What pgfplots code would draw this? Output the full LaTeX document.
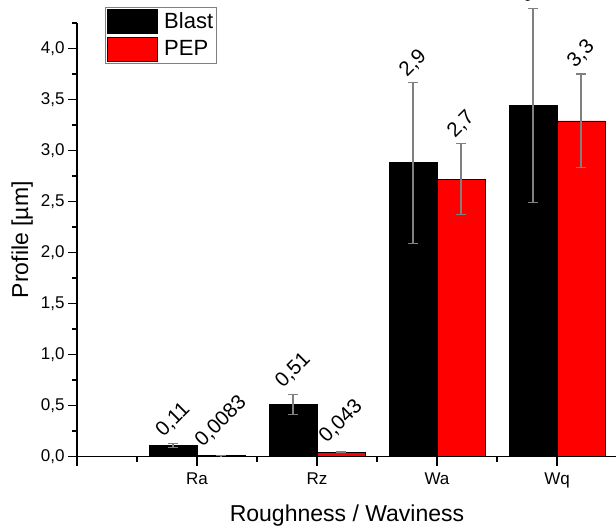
\documentclass[border=0pt]{standalone}
\usepackage{fontspec}
\setmainfont{Liberation Sans}
\usepackage{graphicx}
\usepackage{pgfplots}
\pgfplotsset{compat=1.18}

\definecolor{errgray}{RGB}{128,128,128}
\definecolor{pepred}{RGB}{255,0,0}

% bar samples: bar centre, mean, error
\pgfplotstableread{
x y e
0.8 0.11 0.02
1.8 0.51 0.10
2.8 2.88 0.79
3.8 3.44 0.95
}\blast
\pgfplotstableread{
x y e
1.2 0.0083 0.002
2.2 0.043 0.005
3.2 2.72 0.345
4.2 3.29 0.46
}\pep

\begin{document}
\begin{tikzpicture}
\begin{axis}[
  name=main,
  scale only axis,
  width=540pt, height=433.5pt,
  xmin=0, xmax=4.5, ymin=0, ymax=4.25,
  clip=false,
  axis x line=bottom, axis y line=left,
  axis line style={-, line width=1.5pt},
  tick align=outside,
  xtick={0,1,2,3,4}, xticklabels={,Ra,Rz,Wa,Wq},
  minor xtick={0.5,1.5,2.5,3.5},
  ytick={0,0.5,...,4}, minor ytick={0.25,0.75,...,4.25},
  major tick length=9pt, minor tick length=5pt,
  every tick/.style={black, line width=1.2pt},
  /pgf/number format/.cd, fixed, fixed zerofill, precision=1, use comma, assume math mode=true,
  /pgfplots/.cd,
  ticklabel style={font=\fontsize{17}{20}\selectfont},
  xticklabel style={yshift=-4pt},
  xlabel={Roughness / Waviness},
  ylabel={Profile [µm]},
  label style={font=\fontsize{23}{27}\selectfont},
  xlabel style={at={(axis description cs:0.5,-0.15)}, anchor=base},
  ylabel style={at={(axis description cs:-0.0907,0.5)}, anchor=base},
  legend style={at={(axis description cs:0.0519,1.0369)}, anchor=north west,
    draw=gray, line width=0.8pt, font=\fontsize{22}{26}\selectfont,
    inner sep=1.5pt, row sep=3pt, nodes={inner sep=1.5pt}, cells={anchor=west},
    /tikz/every odd column/.style={column sep=5pt}},
]
\addplot[ybar, bar width=0.4, bar shift=0pt, fill=black, draw=black, line width=0.8pt,
  legend image code/.code={\draw[fill=black, draw=black, line width=0.8pt] (0pt,-12pt) rectangle (50pt,12pt);},
  error bars/.cd, y dir=both, y explicit,
  error bar style={errgray, line width=1.2pt},
  error mark options={errgray, rotate=90, mark size=5pt, line width=1.2pt}]
  table[x=x, y=y, y error=e] {\blast};
\addlegendentry{Blast}
\addplot[ybar, bar width=0.4, bar shift=0pt, fill=pepred, draw=black, line width=0.8pt,
  legend image code/.code={\draw[fill=pepred, draw=black, line width=0.8pt] (0pt,-12pt) rectangle (50pt,12pt);},
  error bars/.cd, y dir=both, y explicit,
  error bar style={errgray, line width=1.2pt},
  error mark options={errgray, rotate=90, mark size=5pt, line width=1.2pt}]
  table[x=x, y=y, y error=e] {\pep};
\addlegendentry{PEP}
% value labels, anchored just above the error bar caps
\addplot[draw=none, mark=none, forget plot, point meta=explicit symbolic,
  nodes near coords={\rotatebox{45}{\pgfplotspointmeta}},
  nodes near coords align={center},
  every node near coord/.append style={anchor=south, inner sep=0pt, outer sep=0pt,
    font=\fontsize{20.5}{24}\selectfont}]
  table[x=x, y=y, meta=lab] {
x y lab
0.8 0.17 0,11
1.2 0.07 0,0083
1.8 0.65 0,51
2.2 0.108 0,043
2.8 3.70 2,9
3.2 3.10 2,7
3.8 4.42 3,4
4.2 3.79 3,3
};
\end{axis}
\pgfresetboundingbox
\path ([shift={(-77pt,-71pt)}]main.south west) rectangle ([shift={(-1pt,23pt)}]main.north east);
\end{tikzpicture}
\end{document}
